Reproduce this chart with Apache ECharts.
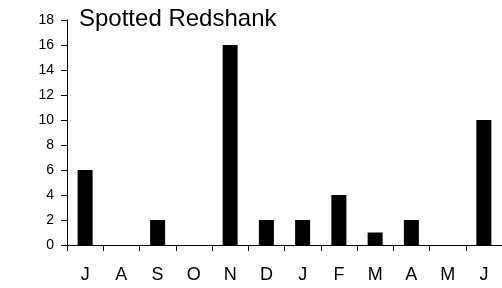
<!DOCTYPE html>
<html>
<head>
<meta charset="utf-8">
<script src="https://cdn.jsdelivr.net/npm/echarts@6/dist/echarts.min.js"></script>
<style>
    html, body {margin: 0; padding: 0; background: #fff;}
    #chart {width: 502px; height: 288px;}
</style>
</head>
<body>
<div id="chart"></div>
<script>
// months, July to June
let months = ['J', 'A', 'S', 'O', 'N', 'D', 'J', 'F', 'M', 'A', 'M', 'J'];
let counts = [6, 0, 2, 0, 16, 2, 2, 4, 1, 2, 0, 10];
let yTicks = {min: 0, max: 18, step: 2};

let c = echarts.init(document.getElementById('chart'));
c.setOption({
    animation: false,
    title: {
        text: 'Spotted Redshank', left: 74, top: 2,
        textStyle: {fontFamily: 'Liberation Sans', fontSize: 24, fontWeight: 'normal', color: '#000'}
    },
    grid: {left: 67, top: 20, width: 440, height: 225},
    xAxis: {
        type: 'category', data: months,
        axisLine: {show: true, lineStyle: {color: '#000', width: 1}},
        axisTick: {show: true, inside: false, length: 6, lineStyle: {color: '#000', width: 1}},
        axisLabel: {margin: 21, fontFamily: 'Liberation Sans', fontSize: 18, color: '#000'}
    },
    yAxis: {
        type: 'value', min: yTicks.min, max: yTicks.max, interval: yTicks.step,
        splitLine: {show: false},
        axisLine: {show: true, lineStyle: {color: '#000', width: 1}},
        axisTick: {show: true, inside: false, length: 6, lineStyle: {color: '#000', width: 1}},
        axisLabel: {margin: 13, fontFamily: 'Liberation Sans', fontSize: 14, color: '#000'}
    },
    series: [{
        type: 'bar', data: counts, barWidth: 15,
        itemStyle: {color: '#000'}
    }]
});
</script>
</body>
</html>
